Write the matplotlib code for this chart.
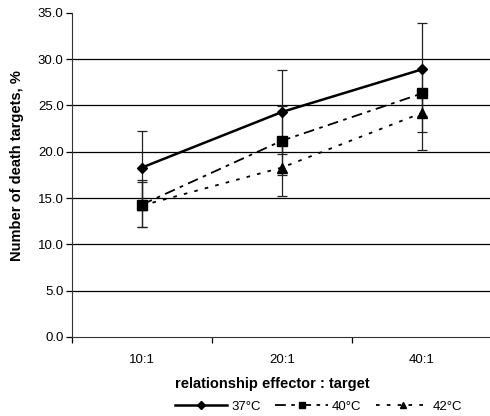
import numpy as np
import matplotlib.pyplot as plt
from matplotlib.lines import Line2D

plt.rcParams['font.family'] = ['Liberation Sans', 'DejaVu Sans']

# Data
categories = ['10:1', '20:1', '40:1']
temp_37 = [18.3, 24.3, 28.9]
err_37_lo = [3.9, 4.5, 5.0]
err_37_hi = [3.9, 4.5, 5.0]
temp_40 = [14.3, 21.2, 26.3]
err_40_lo = [2.4, 3.7, 4.2]
err_40_hi = [2.4, 3.7, 2.6]
temp_42 = [14.2, 18.3, 24.2]
err_42_lo = [2.3, 3.1, 4.0]
err_42_hi = [2.7, 3.1, 2.1]

x = np.arange(len(categories))

fig = plt.figure(figsize=(4.9, 4.16), dpi=100)
ax = fig.add_axes([0.147, 0.19, 0.857, 0.779])

# horizontal grid lines
for g in range(5, 35, 5):
    ax.axhline(g, color='black', lw=0.9, zorder=1)

ebkw = dict(ecolor='#222222', elinewidth=0.9, capsize=3.5, capthick=0.9, zorder=2)

ax.errorbar(x, temp_37, yerr=[err_37_lo, err_37_hi], fmt='none', **ebkw)
ax.errorbar(x, temp_40, yerr=[err_40_lo, err_40_hi], fmt='none', **ebkw)
ax.errorbar(x, temp_42, yerr=[err_42_lo, err_42_hi], fmt='none', **ebkw)

ls_40 = (0, (6, 3, 2, 3))
ls_42 = (0, (2, 4))

ax.plot(x, temp_42, color='black', lw=1.3, linestyle=ls_42,
        marker='^', markersize=7, zorder=3)
ax.plot(x, temp_40, color='black', lw=1.3, linestyle=ls_40,
        marker='s', markersize=7, zorder=4)
ax.plot(x, temp_37, color='black', lw=1.8, linestyle='-',
        marker='D', markersize=5.5, zorder=5)

ax.set_xlim(-0.5, 2.5)
ax.set_ylim(0, 35)
ax.set_yticks(np.arange(0, 36, 5))
ax.set_yticklabels([f'{v:.1f}' for v in np.arange(0, 36, 5)])
ax.set_xticks(x)
ax.set_xticklabels(categories)
ax.set_xticks([-0.5, 0.5, 1.5, 2.5], minor=True)
ax.tick_params(axis='x', which='major', length=0, pad=12, labelsize=9.5)
ax.tick_params(axis='x', which='minor', length=4, width=0.9, direction='out')
ax.tick_params(axis='y', length=4, width=0.9, direction='out', labelsize=9.5, pad=2)

for side in ['top', 'right']:
    ax.spines[side].set_visible(False)
ax.spines['left'].set_color('#333333')
ax.spines['bottom'].set_color('#333333')

ax.set_xlabel('relationship effector : target', fontsize=10.5, fontweight='bold')
ax.xaxis.set_label_coords(0.476, -0.125)
ax.set_ylabel('Number of death targets, %', fontsize=10.5, fontweight='bold')
ax.yaxis.set_label_coords(-0.115, 0.528)

h = [Line2D([], [], color='black', lw=1.8, marker='D', markersize=4),
     Line2D([], [], color='black', lw=1.3, linestyle=ls_40, marker='s', markersize=5),
     Line2D([], [], color='black', lw=1.3, linestyle=ls_42, marker='^', markersize=5)]
fig.legend(h, ['37°C', '40°C', '42°C'], loc='center', bbox_to_anchor=(0.65, 0.022),
           ncol=3, frameon=False, fontsize=9.5, handlelength=4, handletextpad=0.3,
           columnspacing=1.1)

fig.savefig('out.png', dpi=100)
